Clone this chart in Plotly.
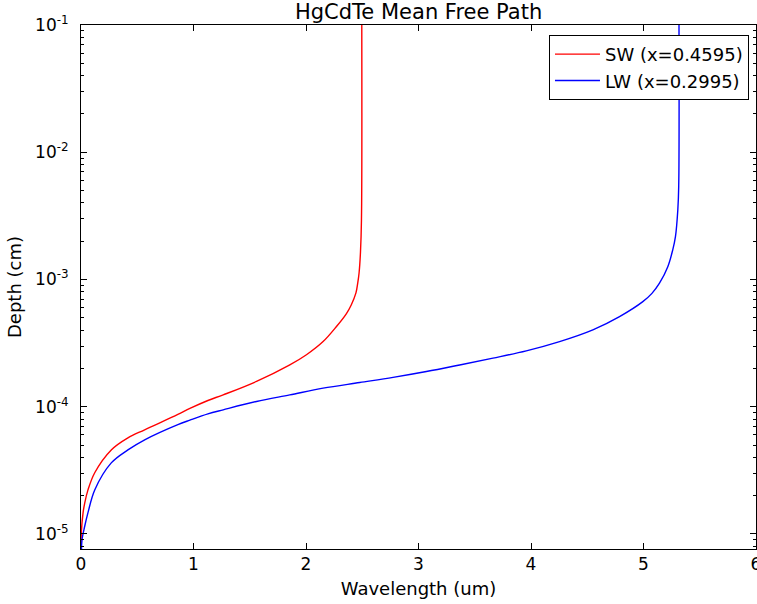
import plotly.graph_objects as go

# SW curve (x=0.4595): wavelength (um) vs depth (cm)
sw_wl = [0.001, 0.003, 0.018, 0.033, 0.062, 0.122, 0.269, 0.417, 0.566, 0.861, 0.968, 1.128,
         1.264, 1.560, 1.856, 2.004, 2.152, 2.271, 2.358, 2.402, 2.444, 2.460, 2.472, 2.484,
         2.493, 2.4955]
sw_depth = [7.0e-6, 1.02e-5, 1.46e-5, 1.75e-5, 2.22e-5, 3.03e-5, 4.58e-5, 5.70e-5, 6.59e-5,
            8.7e-5, 9.7e-5, 1.12e-4, 1.24e-4, 1.58e-4, 2.13e-4, 2.56e-4, 3.25e-4, 4.27e-4,
            5.37e-4, 6.31e-4, 7.85e-4, 9.4e-4, 1.13e-3, 1.62e-3, 2.94e-3, 0.15]

# LW curve (x=0.2995)
lw_wl = [0.004, 0.009, 0.033, 0.062, 0.122, 0.269, 0.417, 0.566, 0.861, 0.968, 1.128, 1.264,
         1.560, 1.856, 2.152, 2.478, 2.774, 3.070, 3.366, 3.662, 3.958, 4.254, 4.550, 4.787,
         4.994, 5.075, 5.142, 5.216, 5.260, 5.284, 5.305, 5.313, 5.315]
lw_depth = [7.0e-6, 9.0e-6, 1.15e-5, 1.47e-5, 2.22e-5, 3.62e-5, 4.58e-5, 5.50e-5, 7.24e-5,
            7.85e-5, 8.79e-5, 9.46e-5, 1.10e-4, 1.24e-4, 1.40e-4, 1.55e-4, 1.70e-4, 1.89e-4,
            2.13e-4, 2.41e-4, 2.75e-4, 3.25e-4, 4.02e-4, 5.11e-4, 6.70e-4, 7.78e-4, 9.35e-4,
            1.26e-3, 1.71e-3, 2.17e-3, 3.52e-3, 5.37e-3, 0.15]

x_ticks = [0, 1, 2, 3, 4, 5, 6]
y_ticks = [1e-5, 1e-4, 1e-3, 1e-2, 1e-1]
y_ticktext = ["10<sup>-5</sup>", "10<sup>-4</sup>", "10<sup>-3</sup>", "10<sup>-2</sup>", "10<sup>-1</sup>"]
y_minor = [m * 10.0 ** e for e in range(-6, -1) for m in range(2, 10)]

FONT = "DejaVu Sans"

fig = go.Figure()
fig.add_trace(go.Scatter(x=sw_wl, y=sw_depth, mode="lines", name="SW (x=0.4595)",
                         line=dict(color="#ff0000", width=1.4, shape="spline", smoothing=1.0)))
fig.add_trace(go.Scatter(x=lw_wl, y=lw_depth, mode="lines", name="LW (x=0.2995)",
                         line=dict(color="#0000ff", width=1.4, shape="spline", smoothing=1.0)))

axis_common = dict(
    showline=True, linecolor="black", linewidth=1, mirror="allticks",
    ticks="inside", ticklen=6, tickwidth=1, tickcolor="black",
    showgrid=False, zeroline=False, automargin=False,
    tickfont=dict(family=FONT, size=17, color="black"),
)

fig.update_xaxes(range=[0, 6], tickmode="array", tickvals=x_ticks,
                 ticktext=[str(v) for v in x_ticks], ticklabeloverflow="allow",
                 title=dict(text="Wavelength (um)", font=dict(family=FONT, size=18, color="black"),
                            standoff=8),
                 ticklabelstandoff=0, **axis_common)
fig.update_yaxes(type="log", range=[-5.118, -1], tickmode="array", tickvals=y_ticks,
                 ticktext=y_ticktext,
                 minor=dict(tickmode="array", tickvals=y_minor, ticks="inside", ticklen=3,
                            tickcolor="black", tickwidth=1),
                 title=dict(text="Depth (cm)", font=dict(family=FONT, size=18, color="black"),
                            standoff=8),
                 ticklabelstandoff=8, **axis_common)

fig.update_layout(
    width=757, height=604,
    margin=dict(l=81, r=1, t=25, b=55),
    paper_bgcolor="white", plot_bgcolor="white",
    title=dict(text="HgCdTe Mean Free Path", x=0.553, xanchor="center",
               y=1 - 12 / 604, yref="container", yanchor="middle",
               font=dict(family=FONT, size=21, color="black")),
    legend=dict(x=0.9896, y=0.981, xanchor="right", yanchor="top",
                bgcolor="white", bordercolor="black", borderwidth=1,
                font=dict(family=FONT, size=18, color="black"),
                itemwidth=45, tracegroupgap=0),
    showlegend=True,
)

fig.write_html("out.html")
